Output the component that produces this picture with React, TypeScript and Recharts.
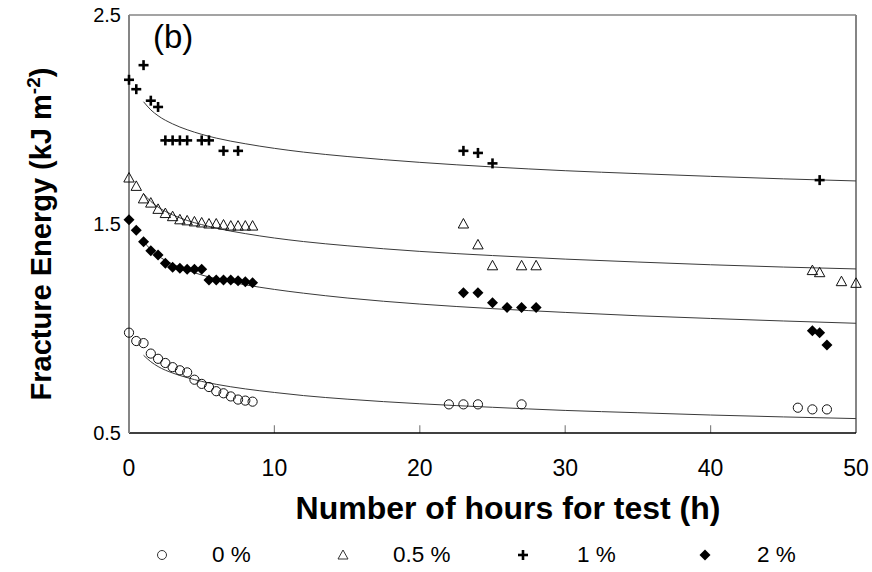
import React from 'react';
import { ScatterChart, Scatter, XAxis, YAxis, ReferenceLine } from 'recharts';

// Measured fracture energy (kJ m-2) against test duration (h), one list per filler content
const hours0 = [0, 0.5, 1, 1.5, 2, 2.5, 3, 3.5, 4, 4.5, 5, 5.5, 6, 6.5, 7, 7.5, 8, 8.5, 22, 23, 24, 27, 46, 47, 48];
const energy0 = [0.98, 0.94, 0.93, 0.88, 0.855, 0.835, 0.815, 0.8, 0.79, 0.755, 0.735, 0.72, 0.7, 0.69, 0.675, 0.66, 0.655, 0.65, 0.637, 0.637, 0.637, 0.637, 0.621, 0.613, 0.613];

const hours05 = [0, 0.5, 1, 1.5, 2, 2.5, 3, 3.5, 4, 4.5, 5, 5.5, 6, 6.5, 7, 7.5, 8, 8.5, 23, 24, 25, 27, 28, 47, 47.5, 49, 50];
const energy05 = [1.72, 1.68, 1.62, 1.6, 1.57, 1.55, 1.535, 1.52, 1.515, 1.51, 1.505, 1.5, 1.5, 1.495, 1.49, 1.49, 1.49, 1.49, 1.5, 1.4, 1.3, 1.3, 1.3, 1.277, 1.267, 1.224, 1.216];

const hours1 = [0, 0.5, 1, 1.5, 2, 2.5, 3, 3.5, 4, 5, 5.5, 6.5, 7.5, 23, 24, 25, 47.5];
const energy1 = [2.19, 2.145, 2.26, 2.09, 2.06, 1.9, 1.9, 1.9, 1.9, 1.9, 1.9, 1.85, 1.85, 1.85, 1.84, 1.79, 1.71];

const hours2 = [0, 0.5, 1, 1.5, 2, 2.5, 3, 3.5, 4, 4.5, 5, 5.5, 6, 6.5, 7, 7.5, 8, 8.5, 23, 24, 25, 26, 27, 28, 47, 47.5, 48];
const energy2 = [1.52, 1.47, 1.415, 1.372, 1.352, 1.312, 1.293, 1.288, 1.283, 1.283, 1.283, 1.232, 1.232, 1.232, 1.232, 1.229, 1.224, 1.219, 1.171, 1.171, 1.123, 1.101, 1.101, 1.101, 0.989, 0.98, 0.921];

// Trend curves, sampled along the hour axis
const fitHours = [1, 1.5, 2, 3, 4, 5, 6, 8, 10, 12, 15, 20, 25, 30, 35, 40, 45, 50];
const fit0 = [0.872, 0.841, 0.818, 0.787, 0.765, 0.747, 0.733, 0.711, 0.694, 0.679, 0.662, 0.64, 0.623, 0.608, 0.597, 0.586, 0.577, 0.569];
const fit05 = [1.645, 1.608, 1.581, 1.544, 1.517, 1.497, 1.48, 1.454, 1.433, 1.416, 1.396, 1.369, 1.349, 1.332, 1.318, 1.305, 1.294, 1.285];
const fit1 = [2.085, 2.046, 2.018, 1.979, 1.951, 1.929, 1.911, 1.884, 1.862, 1.844, 1.823, 1.795, 1.773, 1.755, 1.741, 1.728, 1.716, 1.706];
const fit2 = [1.418, 1.377, 1.348, 1.308, 1.279, 1.256, 1.238, 1.209, 1.187, 1.169, 1.146, 1.117, 1.095, 1.077, 1.061, 1.048, 1.036, 1.025];

const xTicks = [0, 10, 20, 30, 40, 50];
const yTicks = [0.5, 1.5, 2.5];
const legendLabels = ['0 %', '0.5 %', '1 %', '2 %'];

const toPoints = (xs: number[], ys: number[]) => xs.map((h, i) => ({ h, e: ys[i] }));

const FONT = '"Liberation Sans", Arial, sans-serif';
const FRAME = '#858585';

const CircleMark = ({ cx, cy }: any) => (
  <circle cx={cx} cy={cy} r={4.6} fill="none" stroke="#111" strokeWidth={1} />
);
const TriangleMark = ({ cx, cy }: any) => (
  <path d={`M${cx},${cy - 5.5}L${cx + 5.2},${cy + 4}L${cx - 5.2},${cy + 4}Z`} fill="none" stroke="#111" strokeWidth={1} />
);
const PlusMark = ({ cx, cy }: any) => (
  <g stroke="#000" strokeWidth={2.6}>
    <line x1={cx - 5} y1={cy} x2={cx + 5} y2={cy} />
    <line x1={cx} y1={cy - 5} x2={cx} y2={cy + 5} />
  </g>
);
const DiamondMark = ({ cx, cy }: any) => (
  <path d={`M${cx},${cy - 5.5}L${cx + 5.5},${cy}L${cx},${cy + 5.5}L${cx - 5.5},${cy}Z`} fill="#000" />
);
const NoMark = () => <g />;

const XTick = ({ x, payload }: any) => (
  <text x={x} y={468} textAnchor="middle" dominantBaseline="central" fontSize={23} fontFamily={FONT} fill="#000">
    {payload.value}
  </text>
);
const YTick = ({ y, payload }: any) => (
  <text x={121} y={y} textAnchor="end" dominantBaseline="central" fontSize={20} fontFamily={FONT} fill="#000">
    {payload.value.toFixed(1)}
  </text>
);

const legendMarks = [
  <circle cx={6} cy={6} r={4.5} fill="none" stroke="#333" strokeWidth={1} />,
  <path d="M6,1L11,10L1,10Z" fill="none" stroke="#333" strokeWidth={1} />,
  <g stroke="#000" strokeWidth={2.6}><line x1={1} y1={6} x2={11} y2={6} /><line x1={6} y1={1} x2={6} y2={11} /></g>,
  <path d="M6,0.5L11.5,6L6,11.5L0.5,6Z" fill="#000" />,
];
const legendMarkX = [156, 337, 517, 699];
const legendTextX = [212, 393, 577, 757];

const fitLine = { stroke: '#3a3a3a', strokeWidth: 1 };

export default function App() {
  return (
    <div style={{ position: 'absolute', left: 0, top: 0, width: 872, height: 572, background: '#fff', fontFamily: FONT }}>
      <ScatterChart width={872} height={572} margin={{ top: 15, right: 16, bottom: 109, left: 0 }}>
        <XAxis
          type="number"
          dataKey="h"
          domain={[0, 50]}
          ticks={xTicks}
          tick={<XTick />}
          tickLine={false}
          axisLine={{ stroke: '#000', strokeWidth: 1.5 }}
          height={30}
        />
        <YAxis
          type="number"
          dataKey="e"
          domain={[0.5, 2.5]}
          ticks={yTicks}
          tick={<YTick />}
          tickLine={false}
          axisLine={{ stroke: FRAME, strokeWidth: 2 }}
          width={129}
        />
        <ReferenceLine y={2.5} stroke={FRAME} strokeWidth={1.5} />
        <ReferenceLine x={50} stroke={FRAME} strokeWidth={2} />
        {xTicks.slice(1, -1).map((t) => (
          <ReferenceLine key={t} segment={[{ x: t, y: 0.5 }, { x: t, y: 0.537 }]} stroke={FRAME} strokeWidth={1.2} />
        ))}

        <Scatter data={toPoints(fitHours, fit0)} line={fitLine} lineJointType="monotoneX" shape={NoMark} isAnimationActive={false} />
        <Scatter data={toPoints(fitHours, fit05)} line={fitLine} lineJointType="monotoneX" shape={NoMark} isAnimationActive={false} />
        <Scatter data={toPoints(fitHours, fit1)} line={fitLine} lineJointType="monotoneX" shape={NoMark} isAnimationActive={false} />
        <Scatter data={toPoints(fitHours, fit2)} line={fitLine} lineJointType="monotoneX" shape={NoMark} isAnimationActive={false} />

        <Scatter data={toPoints(hours0, energy0)} shape={CircleMark} isAnimationActive={false} />
        <Scatter data={toPoints(hours05, energy05)} shape={TriangleMark} isAnimationActive={false} />
        <Scatter data={toPoints(hours1, energy1)} shape={PlusMark} isAnimationActive={false} />
        <Scatter data={toPoints(hours2, energy2)} shape={DiamondMark} isAnimationActive={false} />
      </ScatterChart>

      <div style={{ position: 'absolute', left: 153, top: 17, fontSize: 33, lineHeight: '40px' }}>(b)</div>

      <div
        style={{
          position: 'absolute',
          left: 40,
          top: 234,
          transform: 'translate(-50%, -50%) rotate(-90deg)',
          whiteSpace: 'nowrap',
          fontWeight: 'bold',
          fontSize: 29,
        }}
      >
        Fracture Energy (kJ m<sup style={{ fontSize: 19, verticalAlign: 11 }}>-2</sup>)
      </div>

      <div
        style={{
          position: 'absolute',
          left: 508,
          top: 508,
          transform: 'translate(-50%, -50%)',
          whiteSpace: 'nowrap',
          fontWeight: 'bold',
          fontSize: 32,
        }}
      >
        Number of hours for test (h)
      </div>

      {legendLabels.map((label, i) => (
        <React.Fragment key={label}>
          <svg style={{ position: 'absolute', left: legendMarkX[i], top: 549 }} width={12} height={12}>
            {legendMarks[i]}
          </svg>
          <div style={{ position: 'absolute', left: legendTextX[i], top: 542, fontSize: 22.5, lineHeight: '26px' }}>
            {label}
          </div>
        </React.Fragment>
      ))}
    </div>
  );
}
